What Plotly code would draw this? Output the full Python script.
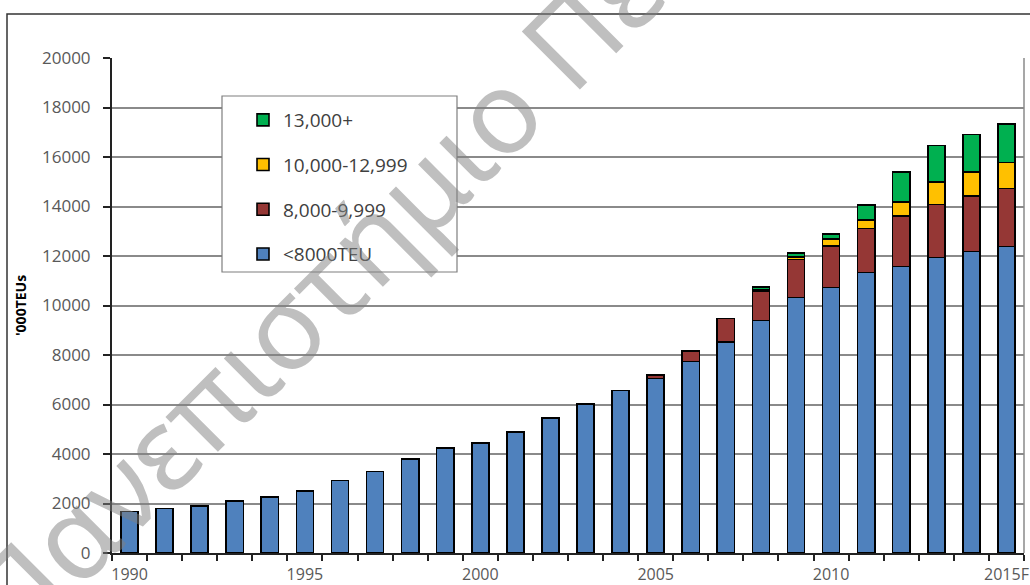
import plotly.graph_objects as go

years = list(range(1990, 2016))
year_labels = [str(y) for y in years[:-1]] + ["2015F"]

lt8000 = [1680, 1800, 1910, 2100, 2260, 2515, 2930, 3300, 3805, 4235, 4435, 4895, 5460,
          6025, 6570, 7055, 7730, 8535, 9395, 10320, 10725, 11330, 11573, 11935, 12177, 12380]
s8000 = [0, 0, 0, 0, 0, 0, 0, 0, 0, 0, 0, 0, 0, 0, 0,
         130, 430, 940, 1195, 1535, 1680, 1775, 2044, 2154, 2246, 2340]
s10000 = [0] * 18 + [60, 105, 275, 350, 563, 900, 968, 1050]
s13000 = [0] * 18 + [100, 150, 200, 605, 1223, 1480, 1520, 1570]

series = [
    ("<8000TEU", lt8000, "#4F81BD"),
    ("8,000-9,999", s8000, "#953735"),
    ("10,000-12,999", s10000, "#FFC000"),
    ("13,000+", s13000, "#00B050"),
]

W, H = 1030, 585
L, R, T, B = 112, 6, 58, 32
pw, ph = W - L - R, H - T - B


def px(x):
    return (x - L) / pw


def py(y):
    return (H - B - y) / ph


fig = go.Figure()
for i, (name, vals, col) in enumerate(series):
    fig.add_trace(go.Bar(
        x=years, y=vals, name=name,
        marker=dict(color=col, line=dict(color="#000000", width=1.6)),
        legendgroup=name, legendrank=4 - i,
    ))

tick_years = [1990, 1995, 2000, 2005, 2010, 2015]
tick_text = [year_labels[years.index(y)] for y in tick_years]

fig.update_layout(
    width=W, height=H,
    margin=dict(l=L, r=R, t=T, b=B, autoexpand=False),
    barmode="stack", bargap=0.51,
    plot_bgcolor="white", paper_bgcolor="white",
    font=dict(family="Open Sans", color="#4d4d4d"),
    showlegend=True,
    legend=dict(
        x=px(243), y=py(101), xanchor="left", yanchor="top",
        bgcolor="rgba(0,0,0,0)", borderwidth=0,
        font=dict(size=19, color="#404040"),
        traceorder="grouped", tracegroupgap=17,
        itemclick=False, itemdoubleclick=False,
    ),
    xaxis=dict(
        range=[1989.5, 2015.5], automargin=False,
        tickmode="array", tickvals=tick_years, ticktext=tick_text,
        ticks="", showgrid=False, ticklabeloverflow="allow",
        showline=True, linecolor="#222222", linewidth=2,
        tickfont=dict(size=16, color="#595959"),
        ticklabelstandoff=6,
        minor=dict(tick0=1989.5, dtick=1, ticks="outside", ticklen=6,
                   tickcolor="#222222", tickwidth=1.5, showgrid=False),
        zeroline=False,
    ),
    yaxis=dict(
        range=[0, 20000], dtick=2000, tickformat="d", automargin=False,
        showgrid=True, gridcolor="#8a8a8a", gridwidth=1.5,
        showline=True, linecolor="#222222", linewidth=2,
        ticks="outside", ticklen=7, tickcolor="#222222", tickwidth=1.5,
        tickfont=dict(size=17, color="#595959"),
        ticklabelstandoff=9,
        zeroline=False,
        title=dict(text="<b>'000TEUs</b>", font=dict(size=14, color="#000000"), standoff=12),
    ),
)

# legend frame, plot-area right border and outer frame
fig.add_shape(type="rect", xref="paper", yref="paper", layer="above",
              x0=px(222), x1=px(457), y0=py(272), y1=py(96),
              fillcolor="white", line=dict(color="#7f7f7f", width=1.2))
fig.add_shape(type="line", xref="paper", yref="paper", x0=1, x1=1, y0=0, y1=1,
              line=dict(color="#8a8a8a", width=1.5))
fig.add_shape(type="rect", xref="paper", yref="paper",
              x0=px(7), x1=px(1040), y0=py(600), y1=py(14),
              line=dict(color="#333333", width=1.5))

# watermark
fig.add_annotation(
    xref="paper", yref="paper", x=px(440), y=py(166),
    xanchor="center", yanchor="middle",
    text="Πανεπιστήμιο Πειραιώς", textangle=-45, showarrow=False,
    font=dict(family="Noto Sans", size=115, color="rgba(128,128,128,0.5)"),
)

fig.write_html("out.html")
